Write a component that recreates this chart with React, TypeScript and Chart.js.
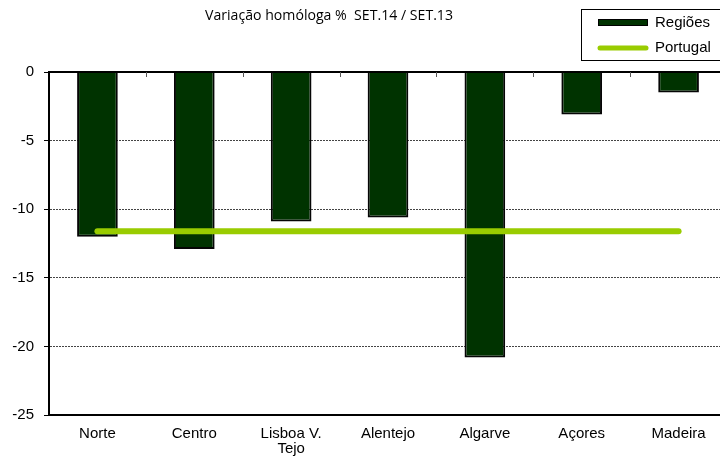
import React, { useEffect, useRef } from 'react';
import { Chart, registerables } from 'chart.js';

Chart.register(...registerables);

const TITLE = 'Variação homóloga %  SET.14 / SET.13';
const CATEGORIES: (string | string[])[] = ['Norte', 'Centro', ['Lisboa V.', 'Tejo'], 'Alentejo', 'Algarve', 'Açores', 'Madeira'];
const REGIOES = [-12.0, -12.9, -10.9, -10.6, -20.8, -3.1, -1.5];
const PORTUGAL = [-11.6, -11.6, -11.6, -11.6, -11.6, -11.6, -11.6];
const SERIES_NAMES = ['Regiões', 'Portugal'];
const Y_MIN = -25;
const Y_MAX = 0;
const Y_STEP = 5;

const BAR_COLOR = '#003300';
const LINE_COLOR = '#99cc00';
const FONT = "'Liberation Sans', Arial, sans-serif";

const decorPlugin = {
  id: 'decor',
  afterDatasetsDraw(chart: any) {
    const { ctx, chartArea, scales } = chart;
    const y0 = Math.round(scales.y.getPixelForValue(0));
    ctx.save();
    ctx.strokeStyle = '#000';
    ctx.lineWidth = 2;
    ctx.beginPath();
    ctx.moveTo(chartArea.left - 1, y0);
    ctx.lineTo(chartArea.right, y0);
    ctx.stroke();
    ctx.strokeStyle = '#555';
    ctx.lineWidth = 1;
    const n = chart.data.labels.length;
    for (let i = 0; i < n - 1; i++) {
      const x = Math.round((scales.x.getPixelForValue(i) + scales.x.getPixelForValue(i + 1)) / 2) + 0.5;
      ctx.beginPath();
      ctx.moveTo(x, y0);
      ctx.lineTo(x, y0 + 5);
      ctx.stroke();
    }
    ctx.restore();
  },
  afterDraw(chart: any) {
    const { ctx } = chart;
    ctx.save();
    ctx.font = "14px 'Open Sans', 'DejaVu Sans', sans-serif";
    ctx.fillStyle = '#000';
    ctx.textBaseline = 'middle';
    ctx.textAlign = 'left';
    const w = ctx.measureText(TITLE).width;
    const target = 248;
    const sx = target / w;
    ctx.translate(329 - target / 2, 16);
    ctx.scale(sx, 1);
    ctx.fillText(TITLE, 0, 0);
    ctx.restore();

    ctx.save();
    ctx.strokeStyle = '#000';
    ctx.lineWidth = 1;
    ctx.strokeRect(581.5, 9.5, 150, 51);
    const ds = chart.data.datasets;
    ctx.fillStyle = BAR_COLOR;
    ctx.fillRect(598, 19, 50, 7);
    ctx.strokeRect(598.5, 19.5, 49, 6);
    ctx.strokeStyle = LINE_COLOR;
    ctx.lineWidth = 5;
    ctx.lineCap = 'round';
    ctx.beginPath();
    ctx.moveTo(600, 48);
    ctx.lineTo(646, 48);
    ctx.stroke();
    ctx.fillStyle = '#000';
    ctx.font = `15px ${FONT}`;
    ctx.textBaseline = 'middle';
    ctx.textAlign = 'left';
    ctx.fillText(ds[0].label, 655, 23);
    ctx.fillText(ds[1].label, 655, 48);
    ctx.restore();
  },
};

export default function App() {
  const ref = useRef<HTMLCanvasElement | null>(null);
  useEffect(() => {
    if (!ref.current) return;
    const chart = new Chart(ref.current, {
      type: 'bar',
      data: {
        labels: CATEGORIES as any,
        datasets: [
          {
            type: 'bar',
            label: SERIES_NAMES[0],
            data: REGIOES,
            backgroundColor: BAR_COLOR,
            borderColor: '#050505',
            borderWidth: 2,
            barPercentage: 0.42,
            categoryPercentage: 1,
            order: 1,
          } as any,
          {
            type: 'line',
            label: SERIES_NAMES[1],
            data: PORTUGAL,
            borderColor: LINE_COLOR,
            backgroundColor: LINE_COLOR,
            borderWidth: 6,
            borderCapStyle: 'round',
            pointRadius: 0,
            pointHoverRadius: 0,
            fill: false,
            order: 0,
          } as any,
        ],
      },
      options: {
        responsive: false,
        animation: false,
        layout: { padding: { left: 0, top: 72, right: 13, bottom: 0 } },
        plugins: {
          legend: { display: false },
          title: { display: false },
          tooltip: { enabled: false },
        },
        scales: {
          x: {
            offset: true,
            grid: { display: false, drawTicks: false },
            border: { display: true, color: '#000', width: 2 },
            ticks: {
              color: '#000',
              font: { family: FONT, size: 15, lineHeight: 1 },
              padding: 11,
              maxRotation: 0,
              autoSkip: false,
            },
            afterFit: (s: any) => {
              s.height = 41;
            },
          },
          y: {
            min: Y_MIN,
            max: Y_MAX,
            ticks: {
              stepSize: Y_STEP,
              color: '#000',
              font: { family: FONT, size: 15 },
              padding: 10,
            },
            grid: {
              color: (c: any) => (c.tick && (c.tick.value === 0 || c.tick.value === Y_MIN) ? 'rgba(0,0,0,0)' : '#444'),
              lineWidth: 1,
              tickColor: '#000',
              tickLength: 5,
              drawTicks: true,
            },
            border: { display: true, color: '#000', width: 2, dash: [2, 1] },
            afterFit: (s: any) => {
              s.width = 49;
            },
          },
        },
      },
      plugins: [decorPlugin],
    });
    return () => chart.destroy();
  }, []);
  return (
    <div style={{ position: 'fixed', left: 0, top: 0, width: 740, height: 456, background: '#fff' }}>
      <canvas ref={ref} width={740} height={456} style={{ width: 740, height: 456, display: 'block' }} />
    </div>
  );
}
